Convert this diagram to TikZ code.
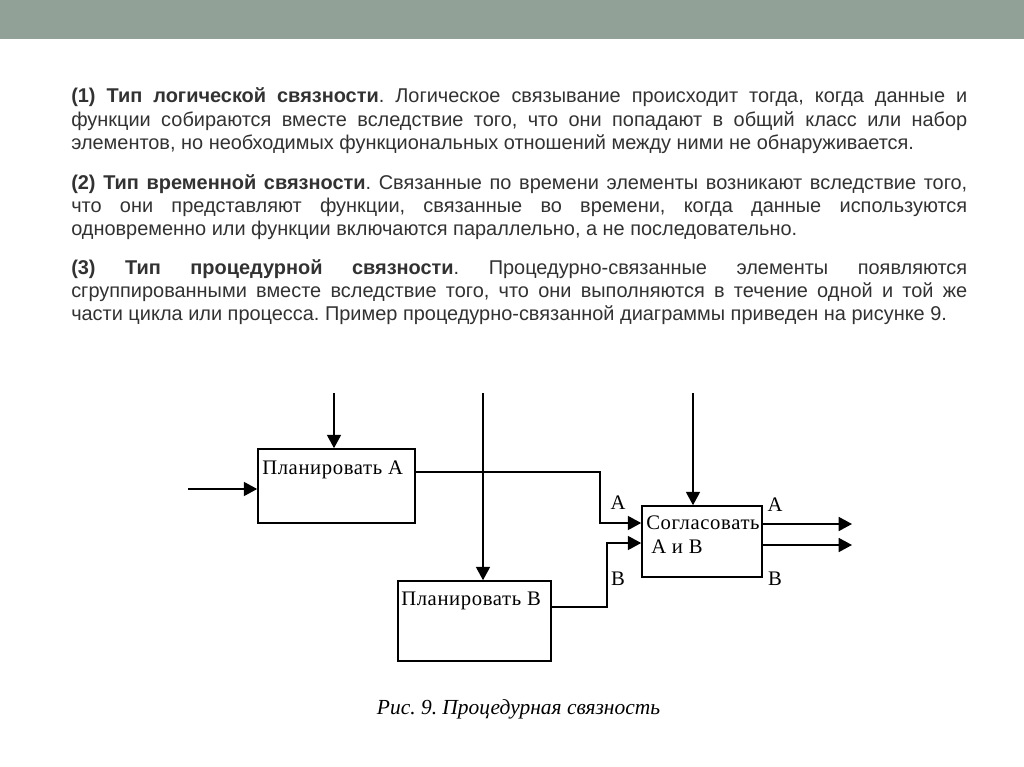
\documentclass[tikz,border=0pt]{standalone}
\usepackage{fontspec}
\setmainfont{Liberation Sans}
\newfontfamily\diagfont[LetterSpace=3]{Liberation Serif}
\newfontfamily\capfont{Liberation Serif}
\usetikzlibrary{arrows.meta, positioning, calc}
\definecolor{barcolor}{RGB}{145,161,151}
\definecolor{textgray}{RGB}{50,50,50}
\frenchspacing
\tikzset{
    bodyline/.style={
        anchor=base west, inner sep=0pt, text=textgray, font=\fontsize{14.95pt}{17.25pt}\selectfont
    },
    procbox/.style={
        rectangle, draw=black, line width=1.2pt, inner sep=0pt, fill=white
    },
    boxtext/.style={
        anchor=base west, inner sep=0pt, font=\diagfont\fontsize{15.5pt}{18pt}\selectfont
    },
    portlabel/.style={
        inner sep=0pt, font=\diagfont\fontsize{15.5pt}{18pt}\selectfont
    },
    figcaption/.style={
        anchor=base, inner sep=0pt, font=\capfont\itshape\fontsize{16.1pt}{18pt}\selectfont
    },
    wire/.style={
        line width=1.2pt
    },
    flow/.style={
        line width=1.2pt, -{Triangle[length=10pt, width=10.5pt]}
    }
}
\newcommand{\fullline}[1]{\makebox[672pt][s]{#1}}

\begin{document}
\begin{tikzpicture}[x=0.75pt, y=-0.75pt]
    \useasboundingbox (0,0) rectangle (1024,767);
    \fill[white] (0,0) rectangle (1024,767);
    \fill[barcolor] (0,0) rectangle (1024,39);

    % Paragraph 1
    \node[bodyline] (p1a) at (71,103) {\fullline{\textbf{(1) Тип логической связности}. Логическое связывание происходит тогда, когда данные и}};
    \node[bodyline] (p1b) at (71,126) {\fullline{функции собираются вместе вследствие того, что они попадают в общий класс или набор}};
    \node[bodyline] (p1c) at (71,149) {элементов, но необходимых функциональных отношений между ними не обнаруживается.};

    % Paragraph 2
    \node[bodyline] (p2a) at (71,189) {\fullline{\textbf{(2) Тип временной связности}. Связанные по времени элементы возникают вследствие того,}};
    \node[bodyline] (p2b) at (71,212) {\fullline{что они представляют функции, связанные во времени, когда данные используются}};
    \node[bodyline] (p2c) at (71,235) {одновременно или функции включаются параллельно, а не последовательно.};

    % Paragraph 3
    \node[bodyline] (p3a) at (71,274) {\fullline{\textbf{(3) Тип процедурной связности}. Процедурно-связанные элементы появляются}};
    \node[bodyline] (p3b) at (71,297) {\fullline{сгруппированными вместе вследствие того, что они выполняются в течение одной и той же}};
    \node[bodyline] (p3c) at (71,320) {части цикла или процесса. Пример процедурно-связанной диаграммы приведен на рисунке 9.};

    % Blocks
    \node[procbox, minimum width=157*0.75pt, minimum height=74*0.75pt] (planA) at (336.5,486) {};
    \node[procbox, minimum width=153*0.75pt, minimum height=80*0.75pt] (planB) at (474.5,621) {};
    \node[procbox, minimum width=120*0.75pt, minimum height=71*0.75pt] (agree) at (702,541.5) {};

    \node[boxtext] (planAtext) at (262,474) {Планировать А};
    \node[boxtext] (planBtext) at (401,605) {Планировать В};
    \node[boxtext] (agreetext) at (646,529) {Согласовать};
    \node[boxtext] (agreetextb) at (651,553) {А и В};

    % Inputs from above and from the left
    \coordinate (srcA) at (334,393);
    \coordinate (srcB) at (483,393);
    \coordinate (srcC) at (693,393);
    \coordinate (ctrlA) at (188,489);
    \draw[flow] (srcA) -- (srcA |- planA.north);
    \draw[flow] (srcB) -- (srcB |- planB.north);
    \draw[flow] (srcC) -- (srcC |- agree.north);
    \draw[flow] (ctrlA) -- (ctrlA -| planA.west);

    % Outputs of A and B into the agreement block
    \coordinate (outA) at (415,472);
    \coordinate (bendA) at (600,523);
    \coordinate (outB) at (551,607);
    \coordinate (bendB) at (607,543);
    \draw[flow] (outA) -| (bendA) -- (bendA -| agree.west);
    \draw[flow] (outB) -| (bendB) -- (bendB -| agree.west);

    % Outputs of the agreement block
    \coordinate (sinkA) at (852,524);
    \coordinate (sinkB) at (852,545);
    \draw[flow] (sinkA -| agree.east) -- (sinkA);
    \draw[flow] (sinkB -| agree.east) -- (sinkB);

    % Port labels
    \node[portlabel] (inlabA) at (618,503) {А};
    \node[portlabel] (inlabB) at (618,579) {В};
    \node[portlabel] (outlabA) at (775,505) {А};
    \node[portlabel] (outlabB) at (775,579) {В};

    % Caption
    \node[figcaption] (caption) at (518.5,714) {Рис. 9. Процедурная связность};
\end{tikzpicture}
\end{document}
